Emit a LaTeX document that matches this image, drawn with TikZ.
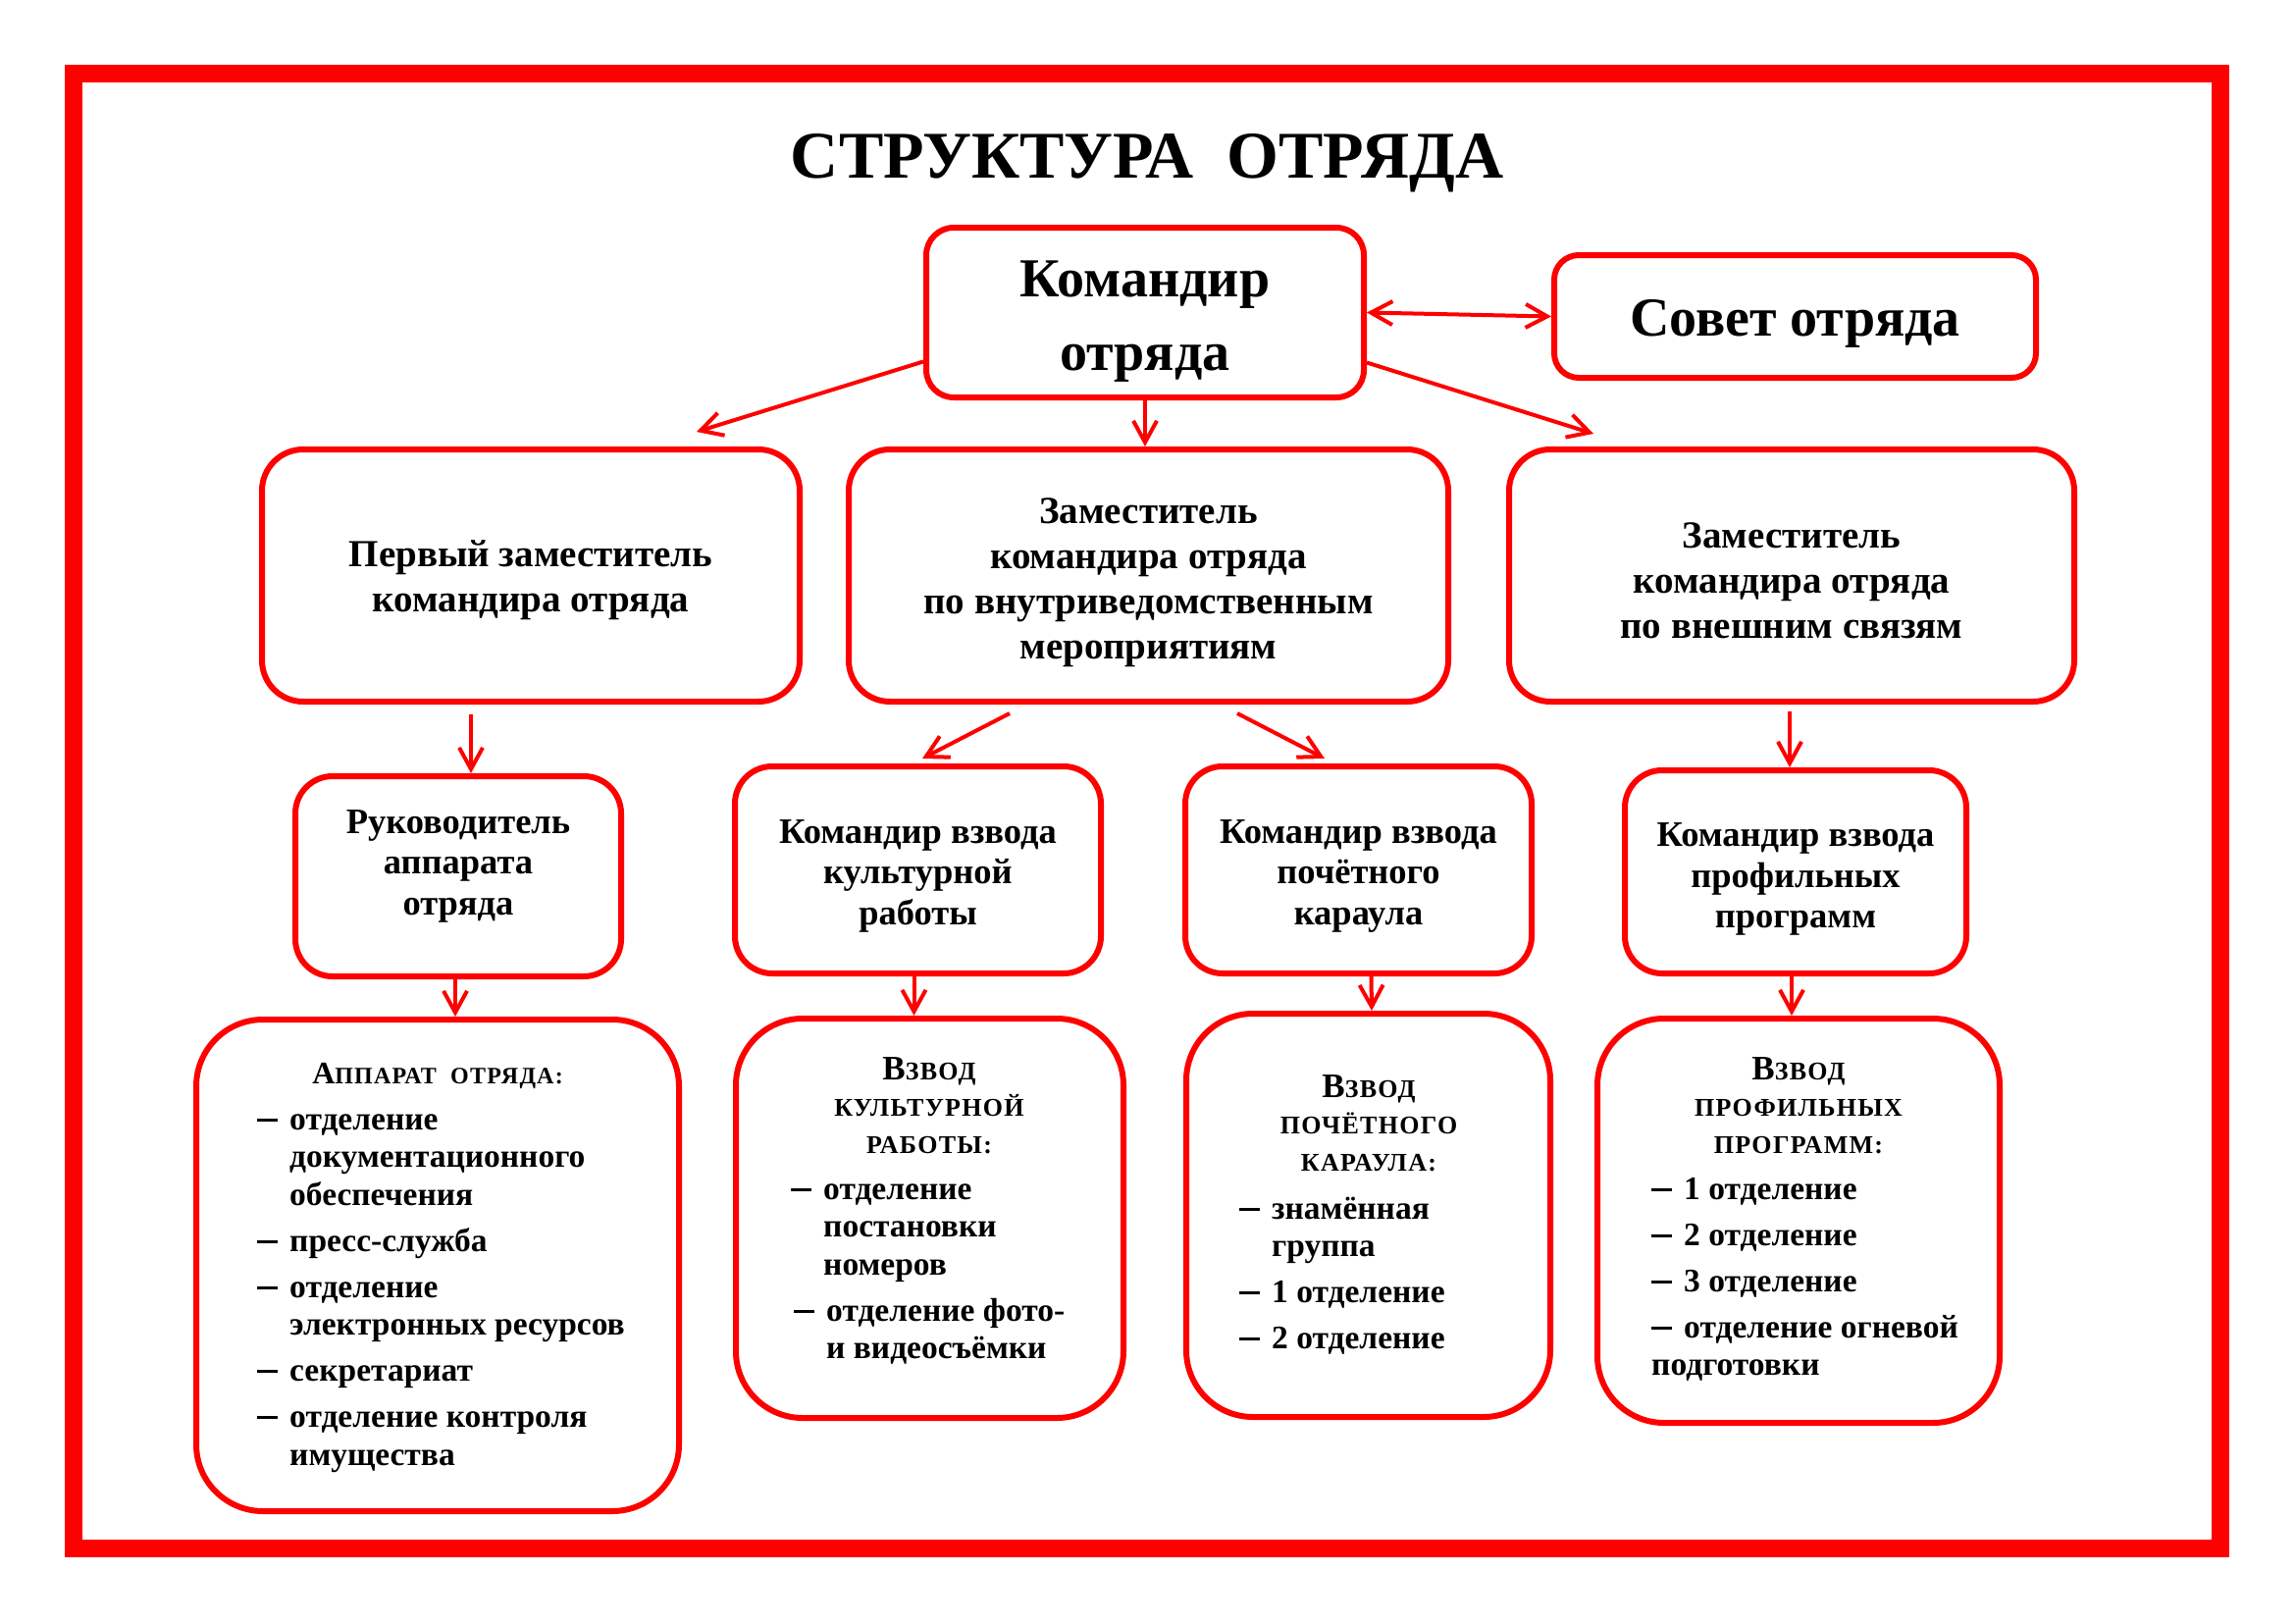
\documentclass[tikz,border=0pt]{standalone}
\usepackage{fontspec}
\setmainfont{Liberation Serif}
\usetikzlibrary{arrows.meta}
\newcommand{\smallcap}[2]{{\fontsize{#1}{#1}\selectfont\addfontfeatures{LetterSpace=5}#2}}
\newcommand{\itemdash}{\makebox[33pt][l]{\rule[0.24em]{21pt}{3pt}}}
\newcommand{\itemgap}{\hspace*{33pt}}
\newcommand{\pushdown}[1]{\rule{0pt}{#1}}
\newcommand{\pushup}[1]{\rule[-#1]{0pt}{0pt}}

\begin{document}
\begin{tikzpicture}[x=1pt,y=-1pt,>={Straight Barb[length=22pt,width=24pt]},
    bx/.style={draw=red,line width=6pt,fill=white,align=center,inner sep=0pt},
    lva/.style={bx,rounded corners=28pt,font=\bfseries\fontsize{56}{75}\selectfont},
    lvb/.style={bx,rounded corners=42pt,font=\bfseries\fontsize{39}{46}\selectfont},
    lvc/.style={bx,rounded corners=38pt,font=\bfseries\fontsize{36.5}{41.5}\selectfont},
    lvd/.style={bx,rounded corners=68pt},
    hd/.style={inner sep=0pt,font=\bfseries\fontsize{26}{37.5}\selectfont},
    lst/.style={inner sep=0pt,font=\bfseries\fontsize{33.5}{38.5}\selectfont},
    ar/.style={->,draw=red,line width=4pt}]
  \useasboundingbox (0,0) rectangle (2339,1654);
  \draw[red,line width=18pt] (75,75) rectangle (2263,1578);
  \node[anchor=base,font=\bfseries\fontsize{68}{80}\selectfont] (title) at (1169,181) {СТРУКТУРА\ \ ОТРЯДА};
  % top level
  \node[lva,minimum width=446,minimum height=173] (cmd) at (1167,318.5) {\pushdown{55pt}Командир\\отряда};
  \node[lva,rounded corners=25pt,minimum width=491,minimum height=125] (sov) at (1829.5,322.5) {\pushdown{52pt}Совет отряда};
  % deputies
  \node[lvb,minimum width=548,minimum height=257] (dep1) at (541,586.5) {\pushdown{36pt}Первый заместитель\\командира отряда};
  \node[lvb,minimum width=611,minimum height=257] (dep2) at (1170.5,586.5) {\pushdown{40pt}Заместитель\\командира отряда\\по внутриведомственным\\мероприятиям};
  \node[lvb,minimum width=576,minimum height=257] (dep3) at (1826,586.5) {\pushdown{36pt}Заместитель\\командира отряда\\по внешним связям};
  % heads
  \node[lvc,minimum width=332,minimum height=204] (ruk) at (467,893) {Руководитель\\аппарата\\отряда\pushup{28pt}};
  \node[lvc,minimum width=373,minimum height=211] (kcmd) at (935.5,886.5) {\pushdown{36pt}Командир взвода\\культурной\\работы};
  \node[lvc,minimum width=353,minimum height=211] (pcmd) at (1384.5,886.5) {\pushdown{36pt}Командир взвода\\почётного\\караула};
  \node[lvc,minimum width=348,minimum height=207] (prcmd) at (1830,888.5) {\pushdown{39pt}Командир взвода\\профильных\\программ};
  % units
  \node[lvd,minimum width=492,minimum height=501] (app) at (446,1289.5) {};
  \node[lvd,minimum width=395,minimum height=407] (vk) at (947.5,1241.5) {};
  \node[lvd,minimum width=371,minimum height=411] (vp) at (1394.5,1238.5) {};
  \node[lvd,minimum width=410,minimum height=412] (vpr) at (1833,1244) {};
  \node[hd,anchor=base] (apph) at (446,1104) {\smallcap{32}{А}\smallcap{24}{ППАРАТ\ \ ОТРЯДА:}};
  \node[lst,anchor=base west] (appl) at (262,1151) {\parbox[t]{420pt}{\raggedright
    \itemdash отделение\\ \itemgap документационного\\ \itemgap обеспечения\\[8.5pt]
    \itemdash пресс-служба\\[8.5pt]
    \itemdash отделение\\ \itemgap электронных ресурсов\\[8.5pt]
    \itemdash секретариат\\[8.5pt]
    \itemdash отделение контроля\\ \itemgap имущества}};
  \node[hd,anchor=base] (vkh) at (947,1100) {\parbox[t]{330pt}{\centering
    \smallcap{35}{В}\smallcap{26}{ЗВОД}\\ \smallcap{26}{КУЛЬТУРНОЙ}\\ \smallcap{26}{РАБОТЫ:}}};
  \node[lst,anchor=base west] (vkl) at (806,1222) {\parbox[t]{330pt}{\raggedright
    \itemdash отделение\\ \itemgap постановки\\ \itemgap номеров\\[8.5pt]
    \hspace*{3pt}\itemdash отделение фото-\\ \hspace*{3pt}\itemgap и видеосъёмки}};
  \node[hd,anchor=base] (vph) at (1395,1118) {\parbox[t]{330pt}{\centering
    \smallcap{35}{В}\smallcap{26}{ЗВОД}\\ \smallcap{26}{ПОЧЁТНОГО}\\ \smallcap{26}{КАРАУЛА:}}};
  \node[lst,anchor=base west] (vpl) at (1263,1242) {\parbox[t]{300pt}{\raggedright
    \itemdash знамённая\\ \itemgap группа\\[8.5pt]
    \itemdash 1 отделение\\[8.5pt]
    \itemdash 2 отделение}};
  \node[hd,anchor=base] (vprh) at (1833,1100) {\parbox[t]{330pt}{\centering
    \smallcap{35}{В}\smallcap{26}{ЗВОД}\\ \smallcap{26}{ПРОФИЛЬНЫХ}\\ \smallcap{26}{ПРОГРАММ:}}};
  \node[lst,anchor=base west] (vprl) at (1683,1222) {\parbox[t]{340pt}{\raggedright
    \itemdash 1 отделение\\[8.5pt]
    \itemdash 2 отделение\\[8.5pt]
    \itemdash 3 отделение\\[8.5pt]
    \itemdash отделение огневой\\ подготовки}};
  % arrows
  \draw[ar] ([yshift=-50pt]cmd.west) -- ([xshift=169pt,yshift=15pt]dep1.north);
  \draw[ar] (cmd.south) -- (cmd.south |- dep2.north);
  \draw[ar] ([yshift=-51pt]cmd.east) -- ([xshift=-202pt,yshift=13pt]dep3.north);
  \draw[ar,<->] (cmd.east) -- (sov.west);
  \draw[ar] ([xshift=-61pt,yshift=-10pt]dep1.south) -- ([xshift=13pt]ruk.north);
  \draw[ar] ([xshift=-141.5pt,yshift=-9pt]dep2.south) -- ([xshift=4.5pt,yshift=5pt]kcmd.north);
  \draw[ar] ([xshift=90.5pt,yshift=-9pt]dep2.south) -- ([xshift=-34.5pt,yshift=5pt]pcmd.north);
  \draw[ar] ([xshift=-2pt,yshift=-7pt]dep3.south) -- ([xshift=-6pt]prcmd.north);
  \draw[ar] ([xshift=-3pt]ruk.south) -- ([xshift=18pt]app.north);
  \draw[ar] ([xshift=-4pt]kcmd.south) -- ([xshift=-16pt]vk.north);
  \draw[ar] ([xshift=13pt]pcmd.south) -- ([xshift=3.5pt]vp.north);
  \draw[ar] ([xshift=-4pt]prcmd.south) -- ([xshift=-7pt]vpr.north);
\end{tikzpicture}
\end{document}
